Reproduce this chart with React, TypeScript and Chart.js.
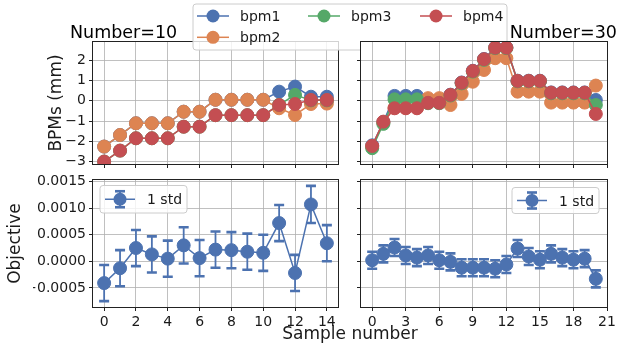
import React, { useEffect, useRef } from 'react';
import { Chart, registerables } from 'chart.js';
Chart.register(...registerables);

// ---------- data ----------
const samples10 = [0, 1, 2, 3, 4, 5, 6, 7, 8, 9, 10, 11, 12, 13, 14];
const bpm1_10 = [-2.26, -1.69, -1.11, -1.11, -1.11, -0.54, -0.54, 0.05, 0.05, 0.05, 0.05, 0.45, 0.7, 0.2, 0.2];
const bpm2_10 = [-2.26, -1.69, -1.11, -1.11, -1.11, -0.54, -0.54, 0.05, 0.05, 0.05, 0.05, -0.37, -0.7, -0.16, -0.14];
const bpm3_10 = [-3.0, -2.46, -1.85, -1.85, -1.85, -1.28, -1.28, -0.71, -0.71, -0.71, -0.71, -0.2, 0.29, 0.02, 0.02];
const bpm4_10 = [-3.0, -2.46, -1.85, -1.85, -1.85, -1.28, -1.28, -0.71, -0.71, -0.71, -0.71, -0.21, -0.16, 0.04, 0.04];

const samples30 = [0, 1, 2, 3, 4, 5, 6, 7, 8, 9, 10, 11, 12, 13, 14, 15, 16, 17, 18, 19, 20];
const bpm1_30 = [-2.2, -1.05, 0.24, 0.24, 0.24, -0.05, -0.05, 0.3, 0.9, 1.48, 2.06, 2.63, 2.63, 0.99, 0.99, 0.99, 0.41, 0.41, 0.41, 0.41, 0.04];
const bpm2_30 = [-2.25, -1.08, -0.35, -0.35, -0.35, 0.13, 0.13, -0.21, 0.34, 0.94, 1.52, 2.1, 2.1, 0.45, 0.45, 0.45, -0.09, -0.09, -0.09, -0.09, 0.75];
const bpm3_30 = [-2.34, -1.14, 0.07, 0.07, 0.07, -0.12, -0.12, 0.26, 0.86, 1.44, 2.02, 2.6, 2.6, 0.96, 0.96, 0.96, 0.37, 0.37, 0.37, 0.37, -0.21];
const bpm4_30 = [-2.23, -1.03, -0.37, -0.37, -0.37, -0.1, -0.1, 0.29, 0.89, 1.47, 2.05, 2.62, 2.62, 0.98, 0.98, 0.98, 0.4, 0.4, 0.4, 0.4, -0.65];

const objective10 = [-0.00041, -0.00013, 0.00025, 0.00013, 0.00005, 0.0003, 0.00006, 0.00022, 0.00021, 0.00018, 0.00016, 0.00072, -0.00022, 0.00107, 0.00034];
const std10 = [0.00034, 0.00034, 0.00034, 0.00034, 0.00034, 0.00034, 0.00034, 0.00034, 0.00034, 0.00034, 0.00034, 0.00034, 0.00034, 0.00035, 0.00034];
const objective30 = [0.00002, 0.00014, 0.00026, 0.00011, 0.00007, 0.00011, 0.00002, -0.00001, -0.00012, -0.00012, -0.00012, -0.00014, -0.00006, 0.00024, 0.00009, 0.00003, 0.00014, 0.00007, 0.00003, 0.00005, -0.00033];
const std30 = [0.00016, 0.00016, 0.00016, 0.00016, 0.00016, 0.00016, 0.00016, 0.00016, 0.00016, 0.00016, 0.00016, 0.00016, 0.00016, 0.00016, 0.00016, 0.00016, 0.00016, 0.00016, 0.00016, 0.00016, 0.00016];

const xTicks10 = [0, 2, 4, 6, 8, 10, 12, 14];
const xTicks30 = [0, 3, 6, 9, 12, 15, 18, 21];
const bpmTicks = [-3, -2, -1, 0, 1, 2];
const objTicks = [-0.0005, 0, 0.0005, 0.001, 0.0015];

const seriesNames = ['bpm1', 'bpm2', 'bpm3', 'bpm4'];
const legendStd = '1 std';

// ---------- style ----------
const FONT = "'DejaVu Sans', sans-serif";
const COLORS = ['#4C72B0', '#DD8452', '#55A868', '#C44E52'];
const TEXT = '#1a1a1a';
const P = 16;

const fmtBpm = (v: number) => (v < 0 ? '\u2212' + Math.abs(v) : String(v));
const fmtObj = (v: number) => {
  const s = Math.abs(v) < 1e-12 ? '0.0000' : Math.abs(v).toFixed(4);
  return v < -1e-12 ? '\u2212' + s : s;
};

type Frame = { x0: number; y0: number; x1: number; y1: number };

const bgPlugin = {
  id: 'areabg',
  beforeDraw(chart: any) {
    const { ctx, chartArea: a } = chart;
    ctx.save();
    ctx.fillStyle = '#ffffff';
    ctx.fillRect(a.left, a.top, a.right - a.left, a.bottom - a.top);
    ctx.restore();
  },
};

const framePlugin = {
  id: 'frame',
  afterDatasetsDraw(chart: any) {
    const { ctx, chartArea: a } = chart;
    ctx.save();
    ctx.strokeStyle = '#222';
    ctx.lineWidth = 1;
    ctx.strokeRect(Math.round(a.left) - 0.5, Math.round(a.top) - 0.5, Math.round(a.right - a.left) + 1, Math.round(a.bottom - a.top) + 1);
    ctx.restore();
  },
};

const errorPlugin = {
  id: 'errbars',
  beforeDatasetsDraw(chart: any) {
    const { ctx } = chart;
    const xs = chart.scales.x;
    const ys = chart.scales.y;
    ctx.save();
    ctx.beginPath();
    ctx.rect(chart.chartArea.left, chart.chartArea.top, chart.chartArea.right - chart.chartArea.left, chart.chartArea.bottom - chart.chartArea.top);
    ctx.clip();
    chart.data.datasets.forEach((ds: any) => {
      if (!ds.errors) return;
      ctx.strokeStyle = ds.borderColor;
      ds.data.forEach((p: any, i: number) => {
        const e = ds.errors[i];
        const x = xs.getPixelForValue(p.x);
        const yt = ys.getPixelForValue(p.y + e);
        const yb = ys.getPixelForValue(p.y - e);
        ctx.lineWidth = 1.8;
        ctx.beginPath();
        ctx.moveTo(x, yt);
        ctx.lineTo(x, yb);
        ctx.stroke();
        ctx.lineWidth = 2.6;
        ctx.beginPath();
        ctx.moveTo(x - 5, yt);
        ctx.lineTo(x + 5, yt);
        ctx.moveTo(x - 5, yb);
        ctx.lineTo(x + 5, yb);
        ctx.stroke();
      });
    });
    ctx.restore();
  },
};

function scaleOpts(opts: {
  min: number; max: number; ticks: number[]; showLabels: boolean; size: number; axis: 'x' | 'y'; fmt: (v: number) => string;
}) {
  return {
    type: 'linear',
    min: opts.min,
    max: opts.max,
    afterBuildTicks: (s: any) => {
      s.ticks = opts.ticks.map((v) => ({ value: v }));
    },
    afterFit: (s: any) => {
      if (opts.axis === 'x') s.height = opts.size;
      else s.width = opts.size;
    },
    ticks: {
      display: opts.showLabels,
      font: { family: FONT, size: 14 },
      color: TEXT,
      padding: 3,
      maxRotation: 0,
      autoSkip: false,
      callback: (v: any) => opts.fmt(Number(v)),
    },
    grid: {
      color: '#b0b0b0',
      lineWidth: 0.8,
      drawTicks: true,
      tickLength: 4,
      tickColor: '#222',
      tickWidth: 1,
    },
    border: { display: false },
  };
}

function ChartBox(props: {
  frame: Frame; yW: number; xH: number; datasets: any[]; xr: [number, number]; yr: [number, number];
  xTicks: number[]; yTicks: number[]; xLabels: boolean; yLabels: boolean; yFmt: (v: number) => string;
}) {
  const ref = useRef<HTMLCanvasElement>(null);
  const { frame, yW, xH } = props;
  const left = frame.x0 - yW - P;
  const top = frame.y0 - P;
  const width = frame.x1 - frame.x0 + yW + 2 * P;
  const height = frame.y1 - frame.y0 + xH + 2 * P;
  useEffect(() => {
    const chart = new Chart(ref.current as HTMLCanvasElement, {
      type: 'line',
      data: { datasets: props.datasets },
      options: {
        animation: false,
        responsive: false,
        devicePixelRatio: 1,
        events: [],
        layout: { padding: P },
        plugins: { legend: { display: false }, tooltip: { enabled: false } },
        scales: {
          x: scaleOpts({ min: props.xr[0], max: props.xr[1], ticks: props.xTicks, showLabels: props.xLabels, size: xH, axis: 'x', fmt: (v) => String(v) }),
          y: scaleOpts({ min: props.yr[0], max: props.yr[1], ticks: props.yTicks, showLabels: props.yLabels, size: yW, axis: 'y', fmt: props.yFmt }),
        },
      } as any,
      plugins: [bgPlugin, errorPlugin, framePlugin],
    });
    return () => chart.destroy();
  }, []);
  return (
    <canvas
      ref={ref}
      width={width}
      height={height}
      style={{ position: 'absolute', left, top, width, height }}
    />
  );
}

function bpmSets(xs: number[], series: number[][]) {
  return series.map((ys, k) => ({
    label: seriesNames[k],
    data: xs.map((x, i) => ({ x, y: ys[i] })),
    borderColor: COLORS[k],
    backgroundColor: COLORS[k],
    pointBackgroundColor: COLORS[k],
    pointBorderColor: COLORS[k],
    borderWidth: 1.5,
    pointRadius: 6.5,
    pointBorderWidth: 1,
    tension: 0,
    order: 3 - k,
  }));
}

function objSet(xs: number[], ys: number[], errs: number[]) {
  return [{
    label: legendStd,
    data: xs.map((x, i) => ({ x, y: ys[i] })),
    errors: errs,
    borderColor: COLORS[0],
    backgroundColor: COLORS[0],
    pointBackgroundColor: COLORS[0],
    pointBorderColor: COLORS[0],
    borderWidth: 1.5,
    pointRadius: 6.5,
    pointBorderWidth: 1,
    tension: 0,
  }];
}

const TOP_Y: [number, number] = [-3.12, 2.9];
const BOT_Y: [number, number] = [-0.00086, 0.00153];

function LegendEntry({ x, y, color, label }: { x: number; y: number; color: string; label: string }) {
  return (
    <g>
      <line x1={x} y1={y} x2={x + 32} y2={y} stroke={color} strokeWidth={1.5} />
      <circle cx={x + 16} cy={y} r={6.5} fill={color} />
      <text x={x + 43} y={y + 5} fontSize={14} fill={TEXT}>{label}</text>
    </g>
  );
}

function StdLegend({ bx, by, w, h }: { bx: number; by: number; w: number; h: number }) {
  const cy = by + h / 2;
  const mx = bx + 20;
  const c = COLORS[0];
  return (
    <g>
      <rect x={bx} y={by} width={w} height={h} rx={3} fill="#ffffff" fillOpacity={0.8} stroke="#cccccc" strokeWidth={1} />
      <line x1={bx + 5} y1={cy} x2={bx + 35} y2={cy} stroke={c} strokeWidth={1.5} />
      <line x1={mx} y1={cy - 8} x2={mx} y2={cy + 8} stroke={c} strokeWidth={1.8} />
      <line x1={mx - 5} y1={cy - 8} x2={mx + 5} y2={cy - 8} stroke={c} strokeWidth={2.6} />
      <line x1={mx - 5} y1={cy + 8} x2={mx + 5} y2={cy + 8} stroke={c} strokeWidth={2.6} />
      <circle cx={mx} cy={cy} r={6.5} fill={c} />
      <text x={bx + 47} y={cy + 5} fontSize={14} fill={TEXT}>{legendStd}</text>
    </g>
  );
}

export default function App() {
  const TL: Frame = { x0: 93, y0: 42, x1: 338, y1: 164 };
  const TR: Frame = { x0: 361, y0: 42, x1: 607, y1: 164 };
  const BL: Frame = { x0: 93, y0: 180, x1: 338, y1: 307 };
  const BR: Frame = { x0: 361, y0: 180, x1: 607, y1: 307 };
  const svgStyle: any = { position: 'absolute', left: 0, top: 0, pointerEvents: 'none' };
  return (
    <div style={{ position: 'fixed', left: 0, top: 0, width: 618, height: 347, background: '#fff', fontFamily: FONT }}>
      <ChartBox frame={TL} yW={60} xH={10} datasets={bpmSets(samples10, [bpm1_10, bpm2_10, bpm3_10, bpm4_10])}
        xr={[-0.7, 14.7]} yr={TOP_Y} xTicks={xTicks10} yTicks={bpmTicks} xLabels={false} yLabels={true} yFmt={fmtBpm} />
      <ChartBox frame={BL} yW={60} xH={30} datasets={objSet(samples10, objective10, std10)}
        xr={[-0.7, 14.7]} yr={BOT_Y} xTicks={xTicks10} yTicks={objTicks} xLabels={true} yLabels={true} yFmt={fmtObj} />
      <ChartBox frame={BR} yW={10} xH={30} datasets={objSet(samples30, objective30, std30)}
        xr={[-1, 21]} yr={BOT_Y} xTicks={xTicks30} yTicks={objTicks} xLabels={true} yLabels={false} yFmt={fmtObj} />
      <svg width={618} height={347} style={svgStyle} fontFamily={FONT}>
        <rect x={193} y={4} width={314} height={46} rx={3} fill="#ffffff" fillOpacity={0.8} stroke="#cccccc" strokeWidth={1} />
        <LegendEntry x={197} y={16} color={COLORS[0]} label={seriesNames[0]} />
        <LegendEntry x={197} y={37.3} color={COLORS[1]} label={seriesNames[1]} />
        <LegendEntry x={308} y={16} color={COLORS[2]} label={seriesNames[2]} />
        <LegendEntry x={420} y={16} color={COLORS[3]} label={seriesNames[3]} />
      </svg>
      <ChartBox frame={TR} yW={10} xH={10} datasets={bpmSets(samples30, [bpm1_30, bpm2_30, bpm3_30, bpm4_30])}
        xr={[-1, 21]} yr={TOP_Y} xTicks={xTicks30} yTicks={bpmTicks} xLabels={false} yLabels={false} yFmt={fmtBpm} />
      <svg width={618} height={347} style={svgStyle} fontFamily={FONT}>
        <text x={70} y={37.5} fontSize={17.5} fill="#000">Number=10</text>
        <text x={617} y={37.5} fontSize={17.5} fill="#000" textAnchor="end">Number=30</text>
        <text transform="translate(61,103) rotate(-90)" fontSize={17} fill={TEXT} textAnchor="middle">BPMs (mm)</text>
        <text transform="translate(20,243.5) rotate(-90)" fontSize={17} fill={TEXT} textAnchor="middle">Objective</text>
        <text x={350} y={339} fontSize={17} fill={TEXT} textAnchor="middle">Sample number</text>
        <StdLegend bx={100} by={185.5} w={87} h={27.5} />
        <StdLegend bx={512} by={187.5} w={87} h={26} />
      </svg>
    </div>
  );
}
